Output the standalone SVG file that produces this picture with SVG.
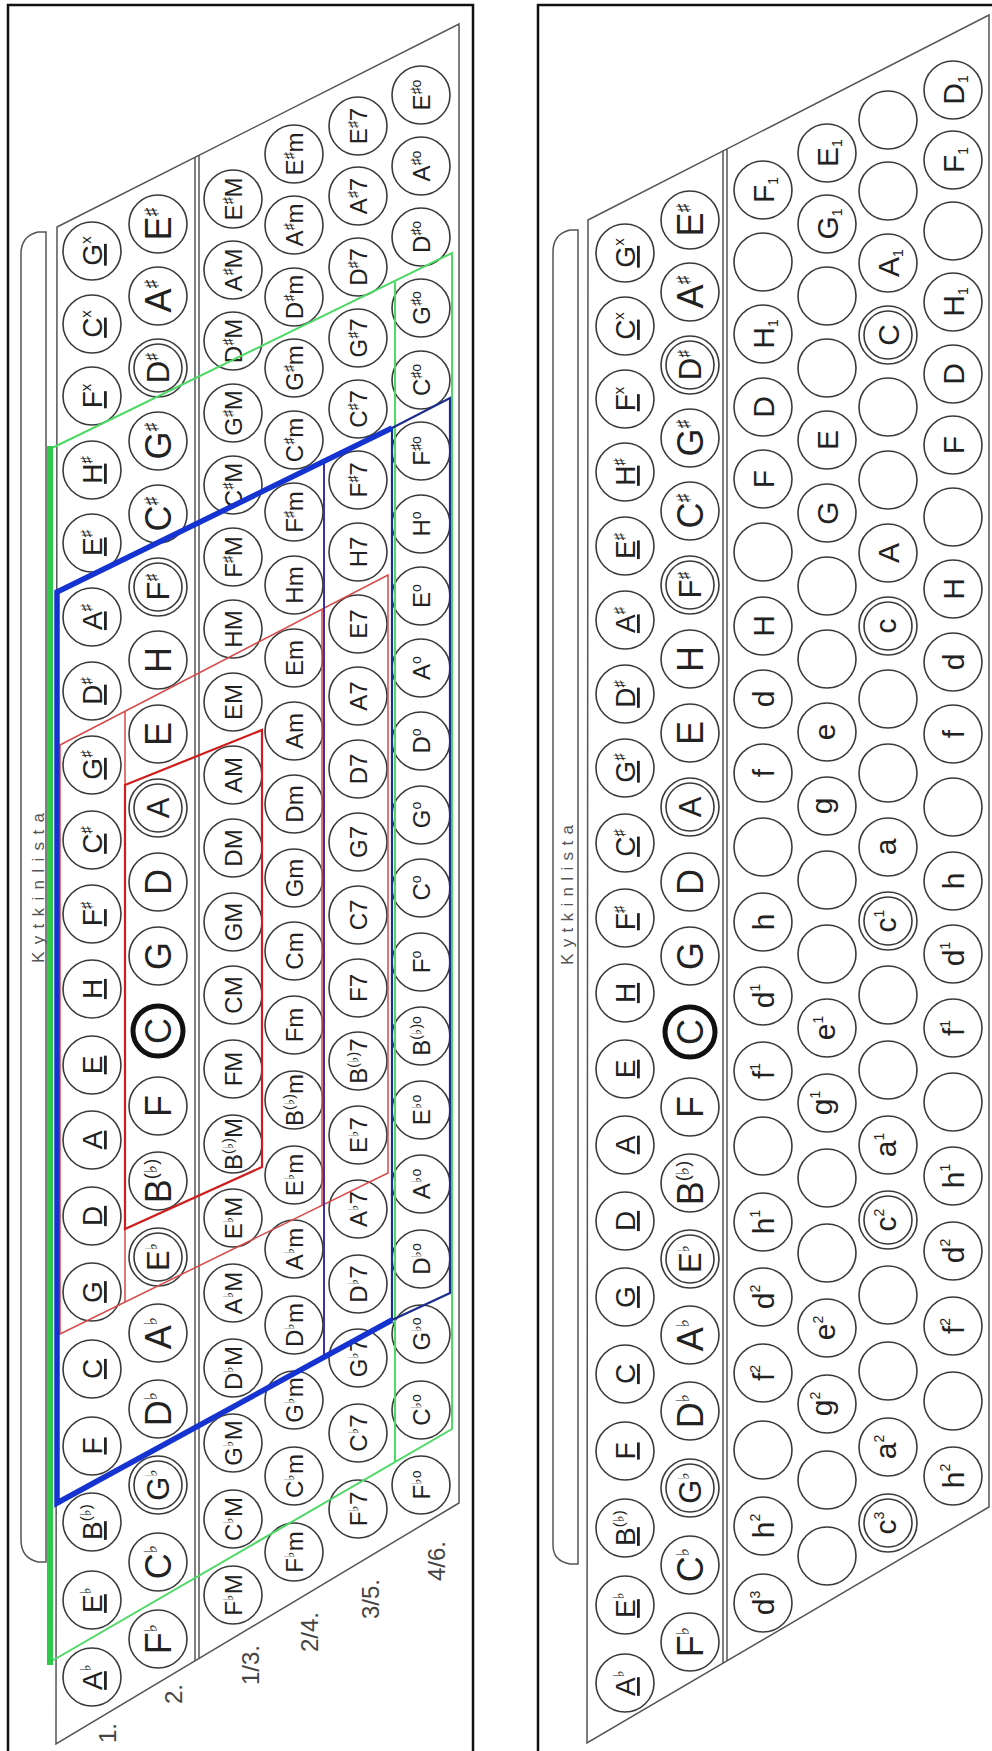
<svg xmlns="http://www.w3.org/2000/svg" width="992" height="1751" viewBox="0 0 992 1751">
<style>
.fr{fill:none;stroke:#111;stroke-width:2.5}
.bd{fill:none;stroke:#555;stroke-width:1.5}
.n circle{fill:none;stroke:#3a3a3a;stroke-width:1.6}
.n circle.k{stroke:#111;stroke-width:5}
text{font-family:'Liberation Sans','DejaVu Sans',sans-serif;fill:#222;text-anchor:middle}
.a{font-size:28px}
.b{font-size:36px}
.b2{font-size:31px}
.c{font-size:24px}
.f{font-size:30px}
.a .s{font-size:15px}
.b .s{font-size:18px}
.b2 .s{font-size:16px}
.c .s{font-size:14px}
.f .s{font-size:14px}
.u{text-decoration:underline}
.lb{font-size:24px;fill:#444}
.ky{font-size:17px;fill:#555}
</style>
<rect width="992" height="1751" fill="#fff"/>
<g id="frames">
<path class="fr" d="M8,1760 V5 H473 V1760"/>
<path class="fr" d="M538,1760 V5 H1000"/>
</g>
<g id="boards">
<path class="bd" d="M57,227 L459,24 L459,1503 L56,1744 Z"/>
<path class="bd" d="M195,157 V1661 M199,155 V1659"/>
<path class="bd" d="M46,232 L38,232 Q21,236 21,254 L21,1540 Q21,1558 38,1562 L46,1562 Z"/>
<path class="bd" d="M588,220 L989,15 L989,1507 L587,1743 Z"/>
<path class="bd" d="M723,151 V1663 M727,149 V1661"/>
<path class="bd" d="M578,230 L570,230 Q553,234 553,252 L553,1545 Q553,1561 570,1564 L578,1564 Z"/>
<text class="ky" transform="translate(38,888) rotate(-90)" y="6" textLength="150" lengthAdjust="spacing">Kytkinlista</text>
<text class="ky" transform="translate(567,895) rotate(-90)" y="6" textLength="140" lengthAdjust="spacing">Kytkinlista</text>
<text class="lb" transform="translate(107,1733) rotate(-90)" y="8.5">1.</text>
<text class="lb" transform="translate(173,1694) rotate(-90)" y="8.5">2.</text>
<text class="lb" transform="translate(250,1665) rotate(-90)" y="8.5">1/3.</text>
<text class="lb" transform="translate(309,1632) rotate(-90)" y="8.5">2/4.</text>
<text class="lb" transform="translate(370,1599) rotate(-90)" y="8.5">3/5.</text>
<text class="lb" transform="translate(436,1561) rotate(-90)" y="8.5">4/6.</text>
</g>

<g id="left-row1">
<g id="L1_0" class="n" transform="translate(92,251) rotate(-90)"><circle r="29"/><text class="a" y="10"><tspan class="u">G</tspan><tspan class="s" dy="-11">x</tspan></text></g>
<g id="L1_1" class="n" transform="translate(92,324) rotate(-90)"><circle r="29"/><text class="a" y="10"><tspan class="u">C</tspan><tspan class="s" dy="-11">x</tspan></text></g>
<g id="L1_2" class="n" transform="translate(92,396) rotate(-90)"><circle r="29"/><text class="a" y="10"><tspan class="u">F</tspan><tspan class="s" dy="-11">x</tspan></text></g>
<g id="L1_3" class="n" transform="translate(92,470) rotate(-90)"><circle r="29"/><text class="a" y="10"><tspan class="u">H</tspan><tspan class="s" dy="-11">♯</tspan></text></g>
<g id="L1_4" class="n" transform="translate(92,543) rotate(-90)"><circle r="29"/><text class="a" y="10"><tspan class="u">E</tspan><tspan class="s" dy="-11">♯</tspan></text></g>
<g id="L1_5" class="n" transform="translate(92,617) rotate(-90)"><circle r="29"/><text class="a" y="10"><tspan class="u">A</tspan><tspan class="s" dy="-11">♯</tspan></text></g>
<g id="L1_6" class="n" transform="translate(92,691) rotate(-90)"><circle r="29"/><text class="a" y="10"><tspan class="u">D</tspan><tspan class="s" dy="-11">♯</tspan></text></g>
<g id="L1_7" class="n" transform="translate(92,765) rotate(-90)"><circle r="29"/><text class="a" y="10"><tspan class="u">G</tspan><tspan class="s" dy="-11">♯</tspan></text></g>
<g id="L1_8" class="n" transform="translate(92,840) rotate(-90)"><circle r="29"/><text class="a" y="10"><tspan class="u">C</tspan><tspan class="s" dy="-11">♯</tspan></text></g>
<g id="L1_9" class="n" transform="translate(92,914) rotate(-90)"><circle r="29"/><text class="a" y="10"><tspan class="u">F</tspan><tspan class="s" dy="-11">♯</tspan></text></g>
<g id="L1_10" class="n" transform="translate(92,989) rotate(-90)"><circle r="29"/><text class="a" y="10"><tspan class="u">H</tspan></text></g>
<g id="L1_11" class="n" transform="translate(92,1065) rotate(-90)"><circle r="29"/><text class="a" y="10"><tspan class="u">E</tspan></text></g>
<g id="L1_12" class="n" transform="translate(92,1140) rotate(-90)"><circle r="29"/><text class="a" y="10"><tspan class="u">A</tspan></text></g>
<g id="L1_13" class="n" transform="translate(92,1216) rotate(-90)"><circle r="29"/><text class="a" y="10"><tspan class="u">D</tspan></text></g>
<g id="L1_14" class="n" transform="translate(92,1292) rotate(-90)"><circle r="29"/><text class="a" y="10"><tspan class="u">G</tspan></text></g>
<g id="L1_15" class="n" transform="translate(92,1369) rotate(-90)"><circle r="29"/><text class="a" y="10"><tspan class="u">C</tspan></text></g>
<g id="L1_16" class="n" transform="translate(92,1446) rotate(-90)"><circle r="29"/><text class="a" y="10"><tspan class="u">F</tspan></text></g>
<g id="L1_17" class="n" transform="translate(92,1522) rotate(-90)"><circle r="29"/><text class="a" y="10"><tspan class="u">B</tspan><tspan class="s" dy="-11">(♭)</tspan></text></g>
<g id="L1_18" class="n" transform="translate(92,1600) rotate(-90)"><circle r="29"/><text class="a" y="10"><tspan class="u">E</tspan><tspan class="s" dy="-11">♭</tspan></text></g>
<g id="L1_19" class="n" transform="translate(92,1677) rotate(-90)"><circle r="29"/><text class="a" y="10"><tspan class="u">A</tspan><tspan class="s" dy="-11">♭</tspan></text></g>
</g>

<g id="left-row2">
<g id="L2_0" class="n" transform="translate(158,224) rotate(-90)"><circle r="29"/><text class="b" y="13">E<tspan class="s" dy="-14">♯</tspan></text></g>
<g id="L2_1" class="n" transform="translate(158,296) rotate(-90)"><circle r="29"/><text class="b" y="13">A<tspan class="s" dy="-14">♯</tspan></text></g>
<g id="L2_2" class="n" transform="translate(158,368) rotate(-90)"><circle r="29"/><circle r="24"/><text class="b2" y="11">D<tspan class="s" dy="-12">♯</tspan></text></g>
<g id="L2_3" class="n" transform="translate(158,441) rotate(-90)"><circle r="29"/><text class="b" y="13">G<tspan class="s" dy="-14">♯</tspan></text></g>
<g id="L2_4" class="n" transform="translate(158,514) rotate(-90)"><circle r="29"/><text class="b" y="13">C<tspan class="s" dy="-14">♯</tspan></text></g>
<g id="L2_5" class="n" transform="translate(158,587) rotate(-90)"><circle r="29"/><circle r="24"/><text class="b2" y="11">F<tspan class="s" dy="-12">♯</tspan></text></g>
<g id="L2_6" class="n" transform="translate(158,660) rotate(-90)"><circle r="29"/><text class="b" y="13">H</text></g>
<g id="L2_7" class="n" transform="translate(158,734) rotate(-90)"><circle r="29"/><text class="b" y="13">E</text></g>
<g id="L2_8" class="n" transform="translate(158,808) rotate(-90)"><circle r="29"/><circle r="24"/><text class="b2" y="11">A</text></g>
<g id="L2_9" class="n" transform="translate(158,882) rotate(-90)"><circle r="29"/><text class="b" y="13">D</text></g>
<g id="L2_10" class="n" transform="translate(158,956) rotate(-90)"><circle r="29"/><text class="b" y="13">G</text></g>
<g id="L2_11" class="n" transform="translate(158,1031) rotate(-90)"><circle class="k" r="25"/><text class="b" y="13">C</text></g>
<g id="L2_12" class="n" transform="translate(158,1106) rotate(-90)"><circle r="29"/><text class="b" y="13">F</text></g>
<g id="L2_13" class="n" transform="translate(158,1181) rotate(-90)"><circle r="29"/><text class="b" y="13">B<tspan class="s" dy="-14">(♭)</tspan></text></g>
<g id="L2_14" class="n" transform="translate(158,1257) rotate(-90)"><circle r="29"/><circle r="24"/><text class="b2" y="11">E<tspan class="s" dy="-12">♭</tspan></text></g>
<g id="L2_15" class="n" transform="translate(158,1333) rotate(-90)"><circle r="29"/><text class="b" y="13">A<tspan class="s" dy="-14">♭</tspan></text></g>
<g id="L2_16" class="n" transform="translate(158,1409) rotate(-90)"><circle r="29"/><text class="b" y="13">D<tspan class="s" dy="-14">♭</tspan></text></g>
<g id="L2_17" class="n" transform="translate(158,1485) rotate(-90)"><circle r="29"/><circle r="24"/><text class="b2" y="11">G<tspan class="s" dy="-12">♭</tspan></text></g>
<g id="L2_18" class="n" transform="translate(158,1562) rotate(-90)"><circle r="29"/><text class="b" y="13">C<tspan class="s" dy="-14">♭</tspan></text></g>
<g id="L2_19" class="n" transform="translate(158,1639) rotate(-90)"><circle r="29"/><text class="b" y="13">F<tspan class="s" dy="-14">♭</tspan></text></g>
</g>

<g id="left-row3">
<g id="L3_0" class="n" transform="translate(233,199) rotate(-90)"><circle r="29"/><text class="c" y="8.5">E<tspan class="s" dy="-9">♯</tspan><tspan dy="9">M</tspan></text></g>
<g id="L3_1" class="n" transform="translate(233,270) rotate(-90)"><circle r="29"/><text class="c" y="8.5">A<tspan class="s" dy="-9">♯</tspan><tspan dy="9">M</tspan></text></g>
<g id="L3_2" class="n" transform="translate(233,341) rotate(-90)"><circle r="29"/><text class="c" y="8.5">D<tspan class="s" dy="-9">♯</tspan><tspan dy="9">M</tspan></text></g>
<g id="L3_3" class="n" transform="translate(233,413) rotate(-90)"><circle r="29"/><text class="c" y="8.5">G<tspan class="s" dy="-9">♯</tspan><tspan dy="9">M</tspan></text></g>
<g id="L3_4" class="n" transform="translate(233,485) rotate(-90)"><circle r="29"/><text class="c" y="8.5">C<tspan class="s" dy="-9">♯</tspan><tspan dy="9">M</tspan></text></g>
<g id="L3_5" class="n" transform="translate(233,557) rotate(-90)"><circle r="29"/><text class="c" y="8.5">F<tspan class="s" dy="-9">♯</tspan><tspan dy="9">M</tspan></text></g>
<g id="L3_6" class="n" transform="translate(233,629) rotate(-90)"><circle r="29"/><text class="c" y="8.5">HM</text></g>
<g id="L3_7" class="n" transform="translate(233,702) rotate(-90)"><circle r="29"/><text class="c" y="8.5">EM</text></g>
<g id="L3_8" class="n" transform="translate(233,775) rotate(-90)"><circle r="29"/><text class="c" y="8.5">AM</text></g>
<g id="L3_9" class="n" transform="translate(233,848) rotate(-90)"><circle r="29"/><text class="c" y="8.5">DM</text></g>
<g id="L3_10" class="n" transform="translate(233,922) rotate(-90)"><circle r="29"/><text class="c" y="8.5">GM</text></g>
<g id="L3_11" class="n" transform="translate(233,995) rotate(-90)"><circle r="29"/><text class="c" y="8.5">CM</text></g>
<g id="L3_12" class="n" transform="translate(233,1069) rotate(-90)"><circle r="29"/><text class="c" y="8.5">FM</text></g>
<g id="L3_13" class="n" transform="translate(233,1144) rotate(-90)"><circle r="29"/><text class="c" y="8.5">B<tspan class="s" dy="-9">(♭)</tspan><tspan dy="9">M</tspan></text></g>
<g id="L3_14" class="n" transform="translate(233,1218) rotate(-90)"><circle r="29"/><text class="c" y="8.5">E<tspan class="s" dy="-9">♭</tspan><tspan dy="9">M</tspan></text></g>
<g id="L3_15" class="n" transform="translate(233,1293) rotate(-90)"><circle r="29"/><text class="c" y="8.5">A<tspan class="s" dy="-9">♭</tspan><tspan dy="9">M</tspan></text></g>
<g id="L3_16" class="n" transform="translate(233,1368) rotate(-90)"><circle r="29"/><text class="c" y="8.5">D<tspan class="s" dy="-9">♭</tspan><tspan dy="9">M</tspan></text></g>
<g id="L3_17" class="n" transform="translate(233,1443) rotate(-90)"><circle r="29"/><text class="c" y="8.5">G<tspan class="s" dy="-9">♭</tspan><tspan dy="9">M</tspan></text></g>
<g id="L3_18" class="n" transform="translate(233,1519) rotate(-90)"><circle r="29"/><text class="c" y="8.5">C<tspan class="s" dy="-9">♭</tspan><tspan dy="9">M</tspan></text></g>
<g id="L3_19" class="n" transform="translate(233,1595) rotate(-90)"><circle r="29"/><text class="c" y="8.5">F<tspan class="s" dy="-9">♭</tspan><tspan dy="9">M</tspan></text></g>
</g>

<g id="left-row4">
<g id="L4_0" class="n" transform="translate(294,154) rotate(-90)"><circle r="29"/><text class="c" y="8.5">E<tspan class="s" dy="-9">♯</tspan><tspan dy="9">m</tspan></text></g>
<g id="L4_1" class="n" transform="translate(294,225) rotate(-90)"><circle r="29"/><text class="c" y="8.5">A<tspan class="s" dy="-9">♯</tspan><tspan dy="9">m</tspan></text></g>
<g id="L4_2" class="n" transform="translate(294,297) rotate(-90)"><circle r="29"/><text class="c" y="8.5">D<tspan class="s" dy="-9">♯</tspan><tspan dy="9">m</tspan></text></g>
<g id="L4_3" class="n" transform="translate(294,368) rotate(-90)"><circle r="29"/><text class="c" y="8.5">G<tspan class="s" dy="-9">♯</tspan><tspan dy="9">m</tspan></text></g>
<g id="L4_4" class="n" transform="translate(294,440) rotate(-90)"><circle r="29"/><text class="c" y="8.5">C<tspan class="s" dy="-9">♯</tspan><tspan dy="9">m</tspan></text></g>
<g id="L4_5" class="n" transform="translate(294,512) rotate(-90)"><circle r="29"/><text class="c" y="8.5">F<tspan class="s" dy="-9">♯</tspan><tspan dy="9">m</tspan></text></g>
<g id="L4_6" class="n" transform="translate(294,585) rotate(-90)"><circle r="29"/><text class="c" y="8.5">Hm</text></g>
<g id="L4_7" class="n" transform="translate(294,658) rotate(-90)"><circle r="29"/><text class="c" y="8.5">Em</text></g>
<g id="L4_8" class="n" transform="translate(294,731) rotate(-90)"><circle r="29"/><text class="c" y="8.5">Am</text></g>
<g id="L4_9" class="n" transform="translate(294,804) rotate(-90)"><circle r="29"/><text class="c" y="8.5">Dm</text></g>
<g id="L4_10" class="n" transform="translate(294,878) rotate(-90)"><circle r="29"/><text class="c" y="8.5">Gm</text></g>
<g id="L4_11" class="n" transform="translate(294,951) rotate(-90)"><circle r="29"/><text class="c" y="8.5">Cm</text></g>
<g id="L4_12" class="n" transform="translate(294,1025) rotate(-90)"><circle r="29"/><text class="c" y="8.5">Fm</text></g>
<g id="L4_13" class="n" transform="translate(294,1100) rotate(-90)"><circle r="29"/><text class="c" y="8.5">B<tspan class="s" dy="-9">(♭)</tspan><tspan dy="9">m</tspan></text></g>
<g id="L4_14" class="n" transform="translate(294,1175) rotate(-90)"><circle r="29"/><text class="c" y="8.5">E<tspan class="s" dy="-9">♭</tspan><tspan dy="9">m</tspan></text></g>
<g id="L4_15" class="n" transform="translate(294,1249) rotate(-90)"><circle r="29"/><text class="c" y="8.5">A<tspan class="s" dy="-9">♭</tspan><tspan dy="9">m</tspan></text></g>
<g id="L4_16" class="n" transform="translate(294,1325) rotate(-90)"><circle r="29"/><text class="c" y="8.5">D<tspan class="s" dy="-9">♭</tspan><tspan dy="9">m</tspan></text></g>
<g id="L4_17" class="n" transform="translate(294,1400) rotate(-90)"><circle r="29"/><text class="c" y="8.5">G<tspan class="s" dy="-9">♭</tspan><tspan dy="9">m</tspan></text></g>
<g id="L4_18" class="n" transform="translate(294,1476) rotate(-90)"><circle r="29"/><text class="c" y="8.5">C<tspan class="s" dy="-9">♭</tspan><tspan dy="9">m</tspan></text></g>
<g id="L4_19" class="n" transform="translate(294,1552) rotate(-90)"><circle r="29"/><text class="c" y="8.5">F<tspan class="s" dy="-9">♭</tspan><tspan dy="9">m</tspan></text></g>
</g>

<g id="left-row5">
<g id="L5_0" class="n" transform="translate(358,126) rotate(-90)"><circle r="29"/><text class="c" y="8.5">E<tspan class="s" dy="-9">♯</tspan><tspan dy="9">7</tspan></text></g>
<g id="L5_1" class="n" transform="translate(358,196) rotate(-90)"><circle r="29"/><text class="c" y="8.5">A<tspan class="s" dy="-9">♯</tspan><tspan dy="9">7</tspan></text></g>
<g id="L5_2" class="n" transform="translate(358,267) rotate(-90)"><circle r="29"/><text class="c" y="8.5">D<tspan class="s" dy="-9">♯</tspan><tspan dy="9">7</tspan></text></g>
<g id="L5_3" class="n" transform="translate(358,338) rotate(-90)"><circle r="29"/><text class="c" y="8.5">G<tspan class="s" dy="-9">♯</tspan><tspan dy="9">7</tspan></text></g>
<g id="L5_4" class="n" transform="translate(358,409) rotate(-90)"><circle r="29"/><text class="c" y="8.5">C<tspan class="s" dy="-9">♯</tspan><tspan dy="9">7</tspan></text></g>
<g id="L5_5" class="n" transform="translate(358,480) rotate(-90)"><circle r="29"/><text class="c" y="8.5">F<tspan class="s" dy="-9">♯</tspan><tspan dy="9">7</tspan></text></g>
<g id="L5_6" class="n" transform="translate(358,552) rotate(-90)"><circle r="29"/><text class="c" y="8.5">H7</text></g>
<g id="L5_7" class="n" transform="translate(358,624) rotate(-90)"><circle r="29"/><text class="c" y="8.5">E7</text></g>
<g id="L5_8" class="n" transform="translate(358,696) rotate(-90)"><circle r="29"/><text class="c" y="8.5">A7</text></g>
<g id="L5_9" class="n" transform="translate(358,769) rotate(-90)"><circle r="29"/><text class="c" y="8.5">D7</text></g>
<g id="L5_10" class="n" transform="translate(358,842) rotate(-90)"><circle r="29"/><text class="c" y="8.5">G7</text></g>
<g id="L5_11" class="n" transform="translate(358,915) rotate(-90)"><circle r="29"/><text class="c" y="8.5">C7</text></g>
<g id="L5_12" class="n" transform="translate(358,988) rotate(-90)"><circle r="29"/><text class="c" y="8.5">F7</text></g>
<g id="L5_13" class="n" transform="translate(358,1061) rotate(-90)"><circle r="29"/><text class="c" y="8.5">B<tspan class="s" dy="-9">(♭)</tspan><tspan dy="9">7</tspan></text></g>
<g id="L5_14" class="n" transform="translate(358,1135) rotate(-90)"><circle r="29"/><text class="c" y="8.5">E<tspan class="s" dy="-9">♭</tspan><tspan dy="9">7</tspan></text></g>
<g id="L5_15" class="n" transform="translate(358,1209) rotate(-90)"><circle r="29"/><text class="c" y="8.5">A<tspan class="s" dy="-9">♭</tspan><tspan dy="9">7</tspan></text></g>
<g id="L5_16" class="n" transform="translate(358,1284) rotate(-90)"><circle r="29"/><text class="c" y="8.5">D<tspan class="s" dy="-9">♭</tspan><tspan dy="9">7</tspan></text></g>
<g id="L5_17" class="n" transform="translate(358,1358) rotate(-90)"><circle r="29"/><text class="c" y="8.5">G<tspan class="s" dy="-9">♭</tspan><tspan dy="9">7</tspan></text></g>
<g id="L5_18" class="n" transform="translate(358,1433) rotate(-90)"><circle r="29"/><text class="c" y="8.5">C<tspan class="s" dy="-9">♭</tspan><tspan dy="9">7</tspan></text></g>
<g id="L5_19" class="n" transform="translate(358,1509) rotate(-90)"><circle r="29"/><text class="c" y="8.5">F<tspan class="s" dy="-9">♭</tspan><tspan dy="9">7</tspan></text></g>
</g>

<g id="left-row6">
<g id="L6_0" class="n" transform="translate(421,95) rotate(-90)"><circle r="29"/><text class="c" y="8.5">E<tspan class="s" dy="-9">♯o</tspan></text></g>
<g id="L6_1" class="n" transform="translate(421,166) rotate(-90)"><circle r="29"/><text class="c" y="8.5">A<tspan class="s" dy="-9">♯o</tspan></text></g>
<g id="L6_2" class="n" transform="translate(421,237) rotate(-90)"><circle r="29"/><text class="c" y="8.5">D<tspan class="s" dy="-9">♯o</tspan></text></g>
<g id="L6_3" class="n" transform="translate(421,308) rotate(-90)"><circle r="29"/><text class="c" y="8.5">G<tspan class="s" dy="-9">♯o</tspan></text></g>
<g id="L6_4" class="n" transform="translate(421,380) rotate(-90)"><circle r="29"/><text class="c" y="8.5">C<tspan class="s" dy="-9">♯o</tspan></text></g>
<g id="L6_5" class="n" transform="translate(421,451) rotate(-90)"><circle r="29"/><text class="c" y="8.5">F<tspan class="s" dy="-9">♯o</tspan></text></g>
<g id="L6_6" class="n" transform="translate(421,524) rotate(-90)"><circle r="29"/><text class="c" y="8.5">H<tspan class="s" dy="-9">o</tspan></text></g>
<g id="L6_7" class="n" transform="translate(421,596) rotate(-90)"><circle r="29"/><text class="c" y="8.5">E<tspan class="s" dy="-9">o</tspan></text></g>
<g id="L6_8" class="n" transform="translate(421,668) rotate(-90)"><circle r="29"/><text class="c" y="8.5">A<tspan class="s" dy="-9">o</tspan></text></g>
<g id="L6_9" class="n" transform="translate(421,741) rotate(-90)"><circle r="29"/><text class="c" y="8.5">D<tspan class="s" dy="-9">o</tspan></text></g>
<g id="L6_10" class="n" transform="translate(421,815) rotate(-90)"><circle r="29"/><text class="c" y="8.5">G<tspan class="s" dy="-9">o</tspan></text></g>
<g id="L6_11" class="n" transform="translate(421,888) rotate(-90)"><circle r="29"/><text class="c" y="8.5">C<tspan class="s" dy="-9">o</tspan></text></g>
<g id="L6_12" class="n" transform="translate(421,962) rotate(-90)"><circle r="29"/><text class="c" y="8.5">F<tspan class="s" dy="-9">o</tspan></text></g>
<g id="L6_13" class="n" transform="translate(421,1036) rotate(-90)"><circle r="29"/><text class="c" y="8.5">B<tspan class="s" dy="-9">(♭)o</tspan></text></g>
<g id="L6_14" class="n" transform="translate(421,1110) rotate(-90)"><circle r="29"/><text class="c" y="8.5">E<tspan class="s" dy="-9">♭o</tspan></text></g>
<g id="L6_15" class="n" transform="translate(421,1184) rotate(-90)"><circle r="29"/><text class="c" y="8.5">A<tspan class="s" dy="-9">♭o</tspan></text></g>
<g id="L6_16" class="n" transform="translate(421,1259) rotate(-90)"><circle r="29"/><text class="c" y="8.5">D<tspan class="s" dy="-9">♭o</tspan></text></g>
<g id="L6_17" class="n" transform="translate(421,1334) rotate(-90)"><circle r="29"/><text class="c" y="8.5">G<tspan class="s" dy="-9">♭o</tspan></text></g>
<g id="L6_18" class="n" transform="translate(421,1410) rotate(-90)"><circle r="29"/><text class="c" y="8.5">C<tspan class="s" dy="-9">♭o</tspan></text></g>
<g id="L6_19" class="n" transform="translate(421,1485) rotate(-90)"><circle r="29"/><text class="c" y="8.5">F<tspan class="s" dy="-9">♭o</tspan></text></g>
</g>

<g id="right-row1">
<g id="R1_0" class="n" transform="translate(625,253) rotate(-90)"><circle r="29"/><text class="a" y="10"><tspan class="u">G</tspan><tspan class="s" dy="-11">x</tspan></text></g>
<g id="R1_1" class="n" transform="translate(625,326) rotate(-90)"><circle r="29"/><text class="a" y="10"><tspan class="u">C</tspan><tspan class="s" dy="-11">x</tspan></text></g>
<g id="R1_2" class="n" transform="translate(625,399) rotate(-90)"><circle r="29"/><text class="a" y="10"><tspan class="u">F</tspan><tspan class="s" dy="-11">x</tspan></text></g>
<g id="R1_3" class="n" transform="translate(625,472) rotate(-90)"><circle r="29"/><text class="a" y="10"><tspan class="u">H</tspan><tspan class="s" dy="-11">♯</tspan></text></g>
<g id="R1_4" class="n" transform="translate(625,546) rotate(-90)"><circle r="29"/><text class="a" y="10"><tspan class="u">E</tspan><tspan class="s" dy="-11">♯</tspan></text></g>
<g id="R1_5" class="n" transform="translate(625,620) rotate(-90)"><circle r="29"/><text class="a" y="10"><tspan class="u">A</tspan><tspan class="s" dy="-11">♯</tspan></text></g>
<g id="R1_6" class="n" transform="translate(625,694) rotate(-90)"><circle r="29"/><text class="a" y="10"><tspan class="u">D</tspan><tspan class="s" dy="-11">♯</tspan></text></g>
<g id="R1_7" class="n" transform="translate(625,768) rotate(-90)"><circle r="29"/><text class="a" y="10"><tspan class="u">G</tspan><tspan class="s" dy="-11">♯</tspan></text></g>
<g id="R1_8" class="n" transform="translate(625,843) rotate(-90)"><circle r="29"/><text class="a" y="10"><tspan class="u">C</tspan><tspan class="s" dy="-11">♯</tspan></text></g>
<g id="R1_9" class="n" transform="translate(625,918) rotate(-90)"><circle r="29"/><text class="a" y="10"><tspan class="u">F</tspan><tspan class="s" dy="-11">♯</tspan></text></g>
<g id="R1_10" class="n" transform="translate(625,993) rotate(-90)"><circle r="29"/><text class="a" y="10"><tspan class="u">H</tspan></text></g>
<g id="R1_11" class="n" transform="translate(625,1069) rotate(-90)"><circle r="29"/><text class="a" y="10"><tspan class="u">E</tspan></text></g>
<g id="R1_12" class="n" transform="translate(625,1145) rotate(-90)"><circle r="29"/><text class="a" y="10"><tspan class="u">A</tspan></text></g>
<g id="R1_13" class="n" transform="translate(625,1221) rotate(-90)"><circle r="29"/><text class="a" y="10"><tspan class="u">D</tspan></text></g>
<g id="R1_14" class="n" transform="translate(625,1297) rotate(-90)"><circle r="29"/><text class="a" y="10"><tspan class="u">G</tspan></text></g>
<g id="R1_15" class="n" transform="translate(625,1374) rotate(-90)"><circle r="29"/><text class="a" y="10"><tspan class="u">C</tspan></text></g>
<g id="R1_16" class="n" transform="translate(625,1451) rotate(-90)"><circle r="29"/><text class="a" y="10"><tspan class="u">F</tspan></text></g>
<g id="R1_17" class="n" transform="translate(625,1528) rotate(-90)"><circle r="29"/><text class="a" y="10"><tspan class="u">B</tspan><tspan class="s" dy="-11">(♭)</tspan></text></g>
<g id="R1_18" class="n" transform="translate(625,1605) rotate(-90)"><circle r="29"/><text class="a" y="10"><tspan class="u">E</tspan><tspan class="s" dy="-11">♭</tspan></text></g>
<g id="R1_19" class="n" transform="translate(625,1683) rotate(-90)"><circle r="29"/><text class="a" y="10"><tspan class="u">A</tspan><tspan class="s" dy="-11">♭</tspan></text></g>
</g>

<g id="right-row2">
<g id="R2_0" class="n" transform="translate(690,220) rotate(-90)"><circle r="29"/><text class="b" y="13">E<tspan class="s" dy="-14">♯</tspan></text></g>
<g id="R2_1" class="n" transform="translate(690,292) rotate(-90)"><circle r="29"/><text class="b" y="13">A<tspan class="s" dy="-14">♯</tspan></text></g>
<g id="R2_2" class="n" transform="translate(690,365) rotate(-90)"><circle r="29"/><circle r="24"/><text class="b2" y="11">D<tspan class="s" dy="-12">♯</tspan></text></g>
<g id="R2_3" class="n" transform="translate(690,438) rotate(-90)"><circle r="29"/><text class="b" y="13">G<tspan class="s" dy="-14">♯</tspan></text></g>
<g id="R2_4" class="n" transform="translate(690,511) rotate(-90)"><circle r="29"/><text class="b" y="13">C<tspan class="s" dy="-14">♯</tspan></text></g>
<g id="R2_5" class="n" transform="translate(690,585) rotate(-90)"><circle r="29"/><circle r="24"/><text class="b2" y="11">F<tspan class="s" dy="-12">♯</tspan></text></g>
<g id="R2_6" class="n" transform="translate(690,659) rotate(-90)"><circle r="29"/><text class="b" y="13">H</text></g>
<g id="R2_7" class="n" transform="translate(690,733) rotate(-90)"><circle r="29"/><text class="b" y="13">E</text></g>
<g id="R2_8" class="n" transform="translate(690,807) rotate(-90)"><circle r="29"/><circle r="24"/><text class="b2" y="11">A</text></g>
<g id="R2_9" class="n" transform="translate(690,882) rotate(-90)"><circle r="29"/><text class="b" y="13">D</text></g>
<g id="R2_10" class="n" transform="translate(690,956) rotate(-90)"><circle r="29"/><text class="b" y="13">G</text></g>
<g id="R2_11" class="n" transform="translate(690,1032) rotate(-90)"><circle class="k" r="25"/><text class="b" y="13">C</text></g>
<g id="R2_12" class="n" transform="translate(690,1107) rotate(-90)"><circle r="29"/><text class="b" y="13">F</text></g>
<g id="R2_13" class="n" transform="translate(690,1183) rotate(-90)"><circle r="29"/><text class="b" y="13">B<tspan class="s" dy="-14">(♭)</tspan></text></g>
<g id="R2_14" class="n" transform="translate(690,1259) rotate(-90)"><circle r="29"/><circle r="24"/><text class="b2" y="11">E<tspan class="s" dy="-12">♭</tspan></text></g>
<g id="R2_15" class="n" transform="translate(690,1335) rotate(-90)"><circle r="29"/><text class="b" y="13">A<tspan class="s" dy="-14">♭</tspan></text></g>
<g id="R2_16" class="n" transform="translate(690,1411) rotate(-90)"><circle r="29"/><text class="b" y="13">D<tspan class="s" dy="-14">♭</tspan></text></g>
<g id="R2_17" class="n" transform="translate(690,1488) rotate(-90)"><circle r="29"/><circle r="24"/><text class="b2" y="11">G<tspan class="s" dy="-12">♭</tspan></text></g>
<g id="R2_18" class="n" transform="translate(690,1565) rotate(-90)"><circle r="29"/><text class="b" y="13">C<tspan class="s" dy="-14">♭</tspan></text></g>
<g id="R2_19" class="n" transform="translate(690,1642) rotate(-90)"><circle r="29"/><text class="b" y="13">F<tspan class="s" dy="-14">♭</tspan></text></g>
</g>

<g id="right-row3">
<g id="R3_0" class="n" transform="translate(763,190) rotate(-90)"><circle r="29"/><text class="f" y="11">F<tspan class="s" dy="4">1</tspan></text></g>
<g id="R3_1" class="n" transform="translate(763,262) rotate(-90)"><circle r="29"/></g>
<g id="R3_2" class="n" transform="translate(763,334) rotate(-90)"><circle r="29"/><text class="f" y="11">H<tspan class="s" dy="4">1</tspan></text></g>
<g id="R3_3" class="n" transform="translate(763,407) rotate(-90)"><circle r="29"/><text class="f" y="11">D</text></g>
<g id="R3_4" class="n" transform="translate(763,479) rotate(-90)"><circle r="29"/><text class="f" y="11">F</text></g>
<g id="R3_5" class="n" transform="translate(763,552) rotate(-90)"><circle r="29"/></g>
<g id="R3_6" class="n" transform="translate(763,626) rotate(-90)"><circle r="29"/><text class="f" y="11">H</text></g>
<g id="R3_7" class="n" transform="translate(763,699) rotate(-90)"><circle r="29"/><text class="f" y="11">d</text></g>
<g id="R3_8" class="n" transform="translate(763,773) rotate(-90)"><circle r="29"/><text class="f" y="11">f</text></g>
<g id="R3_9" class="n" transform="translate(763,847) rotate(-90)"><circle r="29"/></g>
<g id="R3_10" class="n" transform="translate(763,922) rotate(-90)"><circle r="29"/><text class="f" y="11">h</text></g>
<g id="R3_11" class="n" transform="translate(763,996) rotate(-90)"><circle r="29"/><text class="f" y="11">d<tspan class="s" dy="-14">1</tspan></text></g>
<g id="R3_12" class="n" transform="translate(763,1071) rotate(-90)"><circle r="29"/><text class="f" y="11">f<tspan class="s" dy="-14">1</tspan></text></g>
<g id="R3_13" class="n" transform="translate(763,1146) rotate(-90)"><circle r="29"/></g>
<g id="R3_14" class="n" transform="translate(763,1222) rotate(-90)"><circle r="29"/><text class="f" y="11">h<tspan class="s" dy="-14">1</tspan></text></g>
<g id="R3_15" class="n" transform="translate(763,1297) rotate(-90)"><circle r="29"/><text class="f" y="11">d<tspan class="s" dy="-14">2</tspan></text></g>
<g id="R3_16" class="n" transform="translate(763,1373) rotate(-90)"><circle r="29"/><text class="f" y="11">f<tspan class="s" dy="-14">2</tspan></text></g>
<g id="R3_17" class="n" transform="translate(763,1450) rotate(-90)"><circle r="29"/></g>
<g id="R3_18" class="n" transform="translate(763,1526) rotate(-90)"><circle r="29"/><text class="f" y="11">h<tspan class="s" dy="-14">2</tspan></text></g>
<g id="R3_19" class="n" transform="translate(763,1603) rotate(-90)"><circle r="29"/><text class="f" y="11">d<tspan class="s" dy="-14">3</tspan></text></g>
</g>

<g id="right-row4">
<g id="R4_0" class="n" transform="translate(827,153) rotate(-90)"><circle r="29"/><text class="f" y="11">E<tspan class="s" dy="4">1</tspan></text></g>
<g id="R4_1" class="n" transform="translate(827,224) rotate(-90)"><circle r="29"/><text class="f" y="11">G<tspan class="s" dy="4">1</tspan></text></g>
<g id="R4_2" class="n" transform="translate(827,296) rotate(-90)"><circle r="29"/></g>
<g id="R4_3" class="n" transform="translate(827,368) rotate(-90)"><circle r="29"/></g>
<g id="R4_4" class="n" transform="translate(827,440) rotate(-90)"><circle r="29"/><text class="f" y="11">E</text></g>
<g id="R4_5" class="n" transform="translate(827,513) rotate(-90)"><circle r="29"/><text class="f" y="11">G</text></g>
<g id="R4_6" class="n" transform="translate(827,586) rotate(-90)"><circle r="29"/></g>
<g id="R4_7" class="n" transform="translate(827,659) rotate(-90)"><circle r="29"/></g>
<g id="R4_8" class="n" transform="translate(827,732) rotate(-90)"><circle r="29"/><text class="f" y="8">e</text></g>
<g id="R4_9" class="n" transform="translate(827,806) rotate(-90)"><circle r="29"/><text class="f" y="5">g</text></g>
<g id="R4_10" class="n" transform="translate(827,880) rotate(-90)"><circle r="29"/></g>
<g id="R4_11" class="n" transform="translate(827,954) rotate(-90)"><circle r="29"/></g>
<g id="R4_12" class="n" transform="translate(827,1028) rotate(-90)"><circle r="29"/><text class="f" y="8">e<tspan class="s" dy="-12">1</tspan></text></g>
<g id="R4_13" class="n" transform="translate(827,1103) rotate(-90)"><circle r="29"/><text class="f" y="5">g<tspan class="s" dy="-12">1</tspan></text></g>
<g id="R4_14" class="n" transform="translate(827,1178) rotate(-90)"><circle r="29"/></g>
<g id="R4_15" class="n" transform="translate(827,1253) rotate(-90)"><circle r="29"/></g>
<g id="R4_16" class="n" transform="translate(827,1328) rotate(-90)"><circle r="29"/><text class="f" y="8">e<tspan class="s" dy="-12">2</tspan></text></g>
<g id="R4_17" class="n" transform="translate(827,1404) rotate(-90)"><circle r="29"/><text class="f" y="5">g<tspan class="s" dy="-12">2</tspan></text></g>
<g id="R4_18" class="n" transform="translate(827,1480) rotate(-90)"><circle r="29"/></g>
<g id="R4_19" class="n" transform="translate(827,1556) rotate(-90)"><circle r="29"/></g>
</g>

<g id="right-row5">
<g id="R5_0" class="n" transform="translate(888,120) rotate(-90)"><circle r="29"/></g>
<g id="R5_1" class="n" transform="translate(888,191) rotate(-90)"><circle r="29"/></g>
<g id="R5_2" class="n" transform="translate(888,263) rotate(-90)"><circle r="29"/><text class="f" y="11">A<tspan class="s" dy="4">1</tspan></text></g>
<g id="R5_3" class="n" transform="translate(888,335) rotate(-90)"><circle r="29"/><circle r="24"/><text class="f" y="11">C</text></g>
<g id="R5_4" class="n" transform="translate(888,407) rotate(-90)"><circle r="29"/></g>
<g id="R5_5" class="n" transform="translate(888,480) rotate(-90)"><circle r="29"/></g>
<g id="R5_6" class="n" transform="translate(888,553) rotate(-90)"><circle r="29"/><text class="f" y="11">A</text></g>
<g id="R5_7" class="n" transform="translate(888,626) rotate(-90)"><circle r="29"/><circle r="24"/><text class="f" y="8">c</text></g>
<g id="R5_8" class="n" transform="translate(888,699) rotate(-90)"><circle r="29"/></g>
<g id="R5_9" class="n" transform="translate(888,773) rotate(-90)"><circle r="29"/></g>
<g id="R5_10" class="n" transform="translate(888,847) rotate(-90)"><circle r="29"/><text class="f" y="8">a</text></g>
<g id="R5_11" class="n" transform="translate(888,921) rotate(-90)"><circle r="29"/><circle r="24"/><text class="f" y="8">c<tspan class="s" dy="-12">1</tspan></text></g>
<g id="R5_12" class="n" transform="translate(888,995) rotate(-90)"><circle r="29"/></g>
<g id="R5_13" class="n" transform="translate(888,1070) rotate(-90)"><circle r="29"/></g>
<g id="R5_14" class="n" transform="translate(888,1145) rotate(-90)"><circle r="29"/><text class="f" y="8">a<tspan class="s" dy="-12">1</tspan></text></g>
<g id="R5_15" class="n" transform="translate(888,1220) rotate(-90)"><circle r="29"/><circle r="24"/><text class="f" y="8">c<tspan class="s" dy="-12">2</tspan></text></g>
<g id="R5_16" class="n" transform="translate(888,1295) rotate(-90)"><circle r="29"/></g>
<g id="R5_17" class="n" transform="translate(888,1371) rotate(-90)"><circle r="29"/></g>
<g id="R5_18" class="n" transform="translate(888,1447) rotate(-90)"><circle r="29"/><text class="f" y="8">a<tspan class="s" dy="-12">2</tspan></text></g>
<g id="R5_19" class="n" transform="translate(888,1523) rotate(-90)"><circle r="29"/><circle r="24"/><text class="f" y="8">c<tspan class="s" dy="-12">3</tspan></text></g>
</g>

<g id="right-row6">
<g id="R6_0" class="n" transform="translate(953,90) rotate(-90)"><circle r="29"/><text class="f" y="11">D<tspan class="s" dy="4">1</tspan></text></g>
<g id="R6_1" class="n" transform="translate(953,160) rotate(-90)"><circle r="29"/><text class="f" y="11">F<tspan class="s" dy="4">1</tspan></text></g>
<g id="R6_2" class="n" transform="translate(953,231) rotate(-90)"><circle r="29"/></g>
<g id="R6_3" class="n" transform="translate(953,302) rotate(-90)"><circle r="29"/><text class="f" y="11">H<tspan class="s" dy="4">1</tspan></text></g>
<g id="R6_4" class="n" transform="translate(953,374) rotate(-90)"><circle r="29"/><text class="f" y="11">D</text></g>
<g id="R6_5" class="n" transform="translate(953,445) rotate(-90)"><circle r="29"/><text class="f" y="11">F</text></g>
<g id="R6_6" class="n" transform="translate(953,517) rotate(-90)"><circle r="29"/></g>
<g id="R6_7" class="n" transform="translate(953,589) rotate(-90)"><circle r="29"/><text class="f" y="11">H</text></g>
<g id="R6_8" class="n" transform="translate(953,662) rotate(-90)"><circle r="29"/><text class="f" y="11">d</text></g>
<g id="R6_9" class="n" transform="translate(953,734) rotate(-90)"><circle r="29"/><text class="f" y="11">f</text></g>
<g id="R6_10" class="n" transform="translate(953,807) rotate(-90)"><circle r="29"/></g>
<g id="R6_11" class="n" transform="translate(953,881) rotate(-90)"><circle r="29"/><text class="f" y="11">h</text></g>
<g id="R6_12" class="n" transform="translate(953,954) rotate(-90)"><circle r="29"/><text class="f" y="11">d<tspan class="s" dy="-14">1</tspan></text></g>
<g id="R6_13" class="n" transform="translate(953,1028) rotate(-90)"><circle r="29"/><text class="f" y="11">f<tspan class="s" dy="-14">1</tspan></text></g>
<g id="R6_14" class="n" transform="translate(953,1102) rotate(-90)"><circle r="29"/></g>
<g id="R6_15" class="n" transform="translate(953,1176) rotate(-90)"><circle r="29"/><text class="f" y="11">h<tspan class="s" dy="-14">1</tspan></text></g>
<g id="R6_16" class="n" transform="translate(953,1251) rotate(-90)"><circle r="29"/><text class="f" y="11">d<tspan class="s" dy="-14">2</tspan></text></g>
<g id="R6_17" class="n" transform="translate(953,1326) rotate(-90)"><circle r="29"/><text class="f" y="11">f<tspan class="s" dy="-14">2</tspan></text></g>
<g id="R6_18" class="n" transform="translate(953,1401) rotate(-90)"><circle r="29"/></g>
<g id="R6_19" class="n" transform="translate(953,1476) rotate(-90)"><circle r="29"/><text class="f" y="11">h<tspan class="s" dy="-14">2</tspan></text></g>
</g>

<g id="registers" fill="none">
<path d="M60,745 L388,575 L388,1173 L60,1334 Z M125,711 V1302 M322,609 V1206" stroke="#d94848" stroke-width="1.5"/>
<path d="M125,785 L262,730 L262,1167 L125,1229 Z" stroke="#cf1c1c" stroke-width="2.2"/>
<path d="M50,449 L452,253 L452,1429 L50,1662 M395,282 V1462" stroke="#4cd964" stroke-width="2"/>
<path d="M50,446 V1665" stroke="#2ec94a" stroke-width="6"/>
<path d="M324,463 V1355" stroke="#3b2fb0" stroke-width="2"/>
<path d="M392,428 L450,398 L450,1293 L392,1320 Z" stroke="#1c2c8f" stroke-width="2.2"/>
<path d="M392,428 L57,592 L57,1503 L392,1320" stroke="#1533d0" stroke-width="5.5"/>
</g>
</svg>
